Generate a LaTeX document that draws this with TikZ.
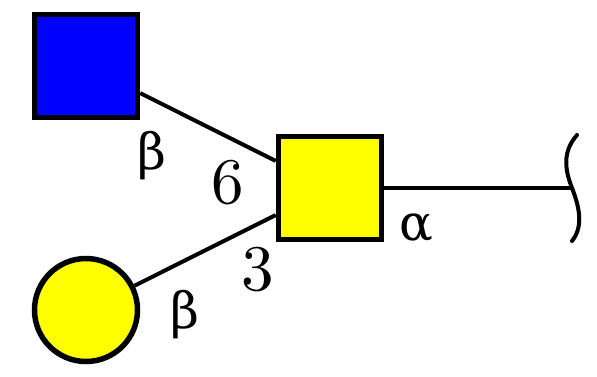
\documentclass[tikz,border=0pt]{standalone}
\usepackage{fontspec}
\newfontfamily\greekfont{DejaVu Serif}
\usetikzlibrary{positioning}
\definecolor{glcblue}{RGB}{0,0,255}
\definecolor{galyellow}{RGB}{255,255,0}
\newcommand{\linktxt}[1]{\scalebox{6.5}{#1}}
\newcommand{\anomer}[1]{{\greekfont\fontsize{50}{54}\selectfont #1}}

\begin{document}
\begin{tikzpicture}[
    x=1pt, y=-1pt,
    glyph/.style={draw=black, line width=5.5pt, minimum size=103pt, inner sep=0pt, fill=#1},
    glyph/.default=galyellow,
    sq/.style={glyph=#1, rectangle},
    circ/.style={glyph=#1, circle},
    bond/.style={line width=4pt, color=black},
    lbl/.style={inner sep=0pt}
]
    \useasboundingbox (0,0) rectangle (597,376);

    % Residues
    \node[sq=glcblue] (glcnac) at (86,66) {};
    \node[sq=galyellow] (galnac) at (330,188) {};
    \node[circ=galyellow] (gal) at (86,310) {};
    \coordinate (red) at (572,188);

    % Bonds
    \draw[bond] (glcnac) -- (galnac);
    \draw[bond] (gal) -- (galnac);
    \draw[bond] (galnac) -- (red);

    % Reducing end
    \draw[bond, line cap=round] (577,135) .. controls (562,152) and (565,170) .. (red)
        .. controls (579,206) and (584,226) .. (572,241);

    % Linkage labels
    \node[lbl] (b6) at (152,156) {\anomer{β}};
    \node[lbl] (p6) at (228,183) {\linktxt{6}};
    \node[lbl] (p3) at (258,270) {\linktxt{3}};
    \node[lbl] (b3) at (185,315) {\anomer{β}};
    \node[lbl] (a1) at (416,228) {\anomer{α}};

\end{tikzpicture}
\end{document}
